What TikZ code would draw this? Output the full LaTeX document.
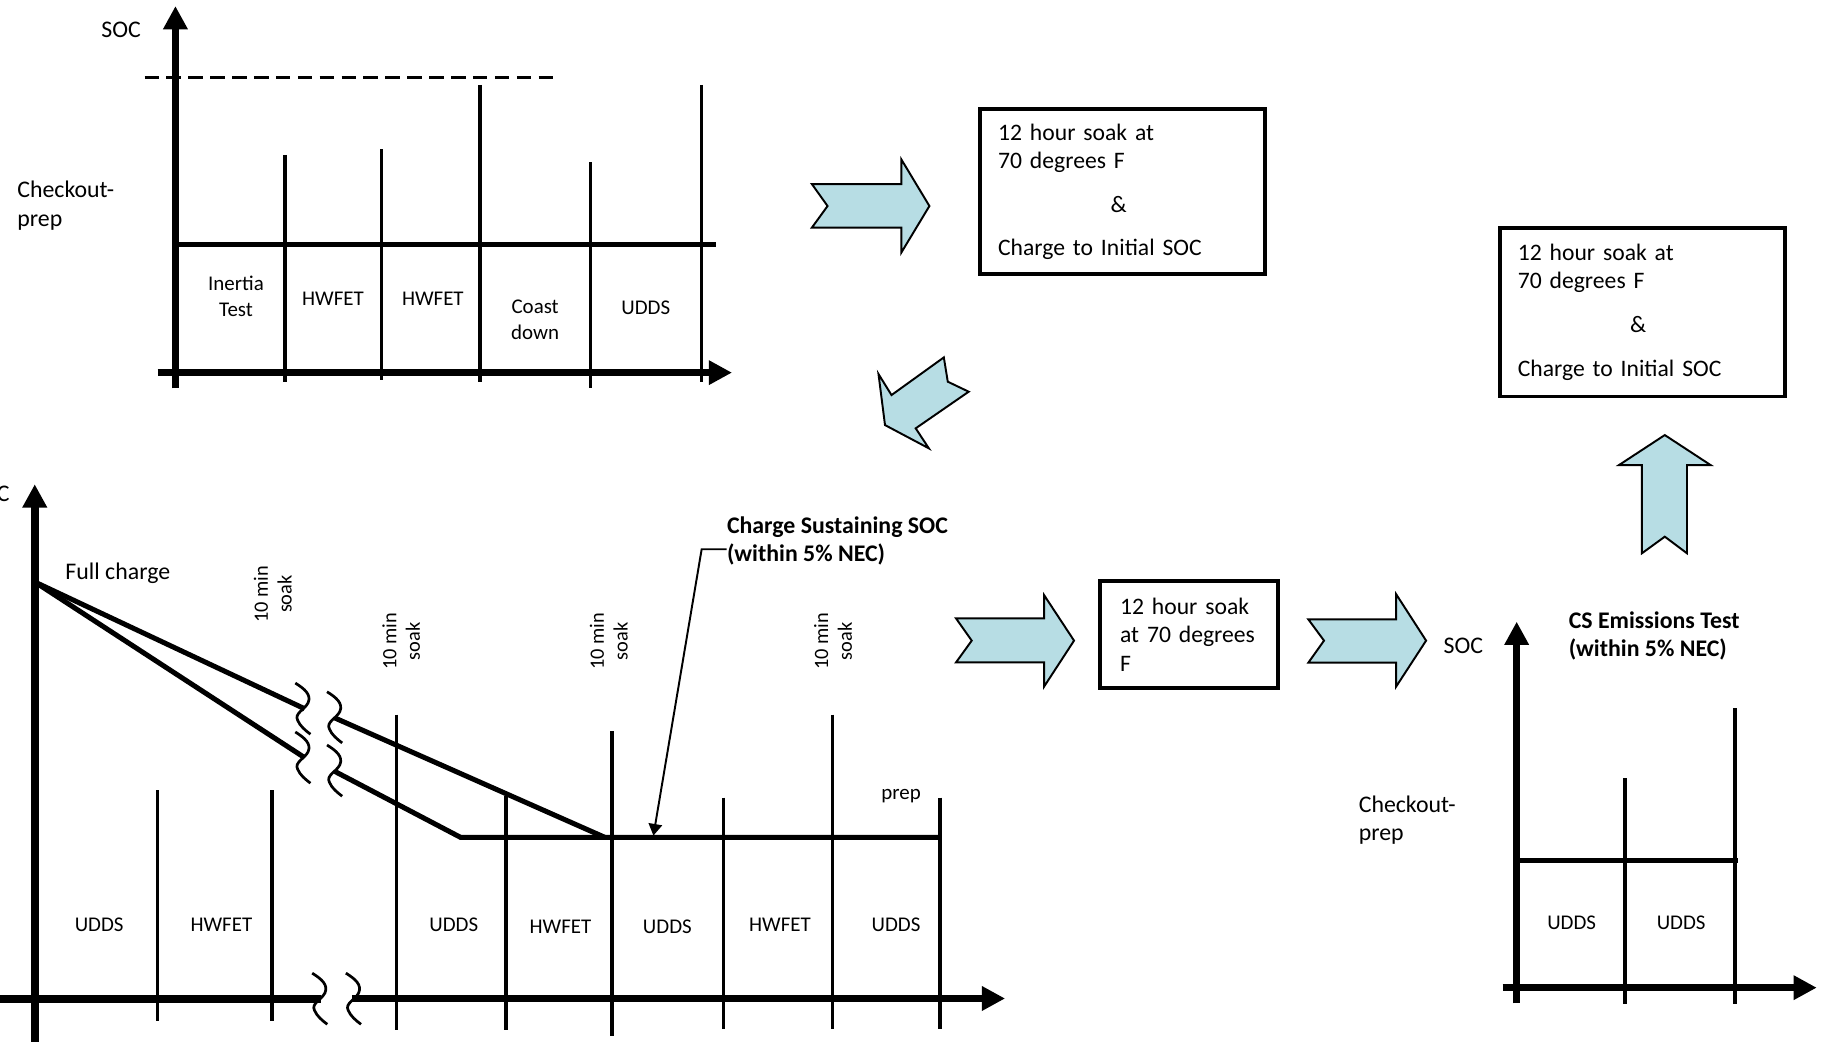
\documentclass[tikz,border=0pt]{standalone}
\usepackage{fontspec}
\setmainfont{Carlito}
\usetikzlibrary{arrows.meta}
\definecolor{arrowfill}{RGB}{183,221,228}

\begin{document}
\begin{tikzpicture}[x=0.6pt, y=-0.6pt,
    axis/.style={line width=3.9pt, -{Triangle[length=12pt,width=12pt]}},
    level/.style={line width=2.6pt},
    tick/.style={line width=1.7pt},
    squigline/.style={line width=1.4pt},
    blockarrow/.style={fill=arrowfill, draw=black, line width=1pt, line join=miter},
    soakbox/.style={draw, line width=2pt, align=left, inner ysep=0pt, font=\fontsize{12.2}{14.6}\selectfont},
    lbl/.style={inner sep=0pt, font=\fontsize{12.3}{14.6}\selectfont},
    lblbold/.style={inner sep=0pt, font=\fontsize{12.3}{14.6}\selectfont\bfseries},
    cell/.style={inner sep=0pt, align=center, font=\fontsize{10.8}{13.3}\selectfont},
    soaklbl/.style={inner sep=0pt, align=center, rotate=90, font=\fontsize{10.5}{12.2}\selectfont},
    squig/.pic={\draw[squigline] (0,0) .. controls (8,5) and (14,10) .. (11,17) .. controls (8,23) and (-1,26) .. (2,32) .. controls (4,37) and (9,41) .. (13,44);}]
    \useasboundingbox (0,0) rectangle (1568,896);

    % first test block
    \draw[line width=1.5pt, dash pattern=on 7.5pt off 3.8pt] (124.3,66.5) -- (481.6,66.5);
    \draw[tick] (245.2,133.3) -- (245.2,328.3);
    \draw[tick] (328.1,128.2) -- (328.1,326.9);
    \draw[tick] (412.8,73.1) -- (412.8,328.3);
    \draw[tick] (507.8,139.6) -- (507.8,334);
    \draw[tick] (603.3,73.1) -- (603.3,328.3);
    \draw[level] (150.9,210.7) -- (616.2,210.7);
    \draw[axis] (150.9,334) -- (150.9,5.2);
    \draw[axis] (135.5,320.5) -- (629.6,320.5);
    \node[lbl] (soctop) at (104.2,25.8) {SOC};
    \node[lbl, anchor=west, align=left] (checktop) at (14.6,176.8) {Checkout-\\prep};
    \node[cell] (inertia) at (203,254.9) {Inertia\\Test};
    \node[cell] (hwfeta) at (286.4,257.2) {HWFET};
    \node[cell] (hwfetb) at (372.3,257.2) {HWFET};
    \node[cell] (coast) at (460.3,274.9) {Coast\\down};
    \node[cell] (uddstop) at (555.4,264.3) {UDDS};

    % soak boxes and block arrows
    \node[soakbox, text width=128.4pt, inner xsep=9.3pt, minimum height=85.2pt] (soaka) at (965.5,165) {12 hour soak at\\70 degrees F\\[8pt]\hspace*{58pt}\&\\[8pt]Charge to Initial SOC};
    \node[soakbox, text width=128.4pt, inner xsep=9.3pt, minimum height=87pt] (soakb) at (1412.5,268.5) {12 hour soak at\\70 degrees F\\[8pt]\hspace*{58pt}\&\\[8pt]Charge to Initial SOC};
    \node[soakbox, text width=71.2pt, inner xsep=10.4pt, minimum height=55.5pt] (soakc) at (1022.75,545.75) {12 hour soak\\at 70 degrees\\F};
    \draw[blockarrow] (698.3,158.3) -- (775.2,158.3) -- (775.2,137) -- (799.4,177.2) -- (775.2,217.3) -- (775.2,195.8) -- (698.3,195.8) -- (711.8,177.2) -- cycle;
    \draw[blockarrow] (811.8,307.4) -- (766.8,339.8) -- (755.6,321.7) -- (761.2,365.6) -- (798.9,385.6) -- (787.6,368.4) -- (833.2,336.9) -- (815.2,328.3) -- cycle;
    \draw[blockarrow] (822.3,531.9) -- (898,531.9) -- (898,511.8) -- (923.8,551) -- (898,590.6) -- (898,569.7) -- (822.3,569.7) -- (835.8,551) -- cycle;
    \draw[blockarrow] (1125.3,532.7) -- (1200.8,532.7) -- (1200.8,511) -- (1226.6,551) -- (1200.8,590.6) -- (1200.8,570) -- (1125.3,570) -- (1138.8,551) -- cycle;
    \draw[blockarrow] (1412.2,475.9) -- (1412.2,400) -- (1392.5,400) -- (1431.9,374.2) -- (1471.3,400) -- (1451,400) -- (1451,475.9) -- (1431.9,461.6) -- cycle;

    % charge depleting block
    \draw[tick] (135.3,679.5) -- (135.3,878.5);
    \draw[tick] (233.9,679.5) -- (233.9,878.5);
    \draw[tick] (341,614.7) -- (341,885.5);
    \draw[tick] (435.2,685) -- (435.2,885.5);
    \draw[tick] (526.5,629) -- (526.5,891);
    \draw[tick] (622.2,686) -- (622.2,885);
    \draw[tick] (716.2,614.7) -- (716.2,885);
    \draw[tick] (808.5,686) -- (808.5,885);
    \draw[level, line join=round] (30,500.6) -- (262,609.6);
    \draw[level, line join=round] (30,500.6) -- (261,651);
    \draw[level] (288,617.5) -- (520.2,720.2);
    \draw[level] (288,663.5) -- (396.1,720.2) -- (808.5,720.2);
    \pic at (254,587.5) {squig};
    \pic at (254,629.6) {squig};
    \pic at (281.3,595) {squig};
    \pic at (281.3,640.8) {squig};
    \pic at (268.5,837) {squig};
    \pic at (297.5,837) {squig};
    \draw[axis] (29.9,900) -- (29.9,416.5);
    \draw[line width=3.9pt] (0,859.3) -- (276,859.3);
    \draw[axis] (303,858.8) -- (864.5,858.8);
    \node[lbl, anchor=east] (socbottom) at (8.5,424.5) {SOC};
    \node[lbl, anchor=west] (full) at (56,493.2) {Full charge};
    \node[soaklbl] (soaka) at (234.6,511) {10 min\\soak};
    \node[soaklbl] (soakb) at (345.1,551.5) {10 min\\soak};
    \node[soaklbl] (soakc) at (523.7,551.5) {10 min\\soak};
    \node[soaklbl] (soakd) at (716.5,551.5) {10 min\\soak};
    \node[cell] (uddsa) at (85.3,795.4) {UDDS};
    \node[cell] (hwfetc) at (190.4,795.4) {HWFET};
    \node[cell] (uddsb) at (390.3,795.4) {UDDS};
    \node[cell] (hwfetd) at (482.1,797) {HWFET};
    \node[cell] (uddsc) at (574,797) {UDDS};
    \node[cell] (hwfete) at (670.9,795.6) {HWFET};
    \node[cell] (uddsd) at (770.7,795.6) {UDDS};
    \node[cell] (prep) at (775,685) {prep};
    \node[lblbold, anchor=west, align=left] (cslabel) at (625,465.2) {Charge Sustaining SOC\\(within 5\% NEC)};
    \coordinate (csbend) at (603.5,472.4);
    \coordinate (cstarget) at (562,718.7);
    \draw[line width=1pt, -{Triangle[length=6pt,width=7pt]}] (cslabel.west |- csbend) -- (csbend) -- (cstarget);

    % emissions test block
    \draw[tick] (1397.7,669.5) -- (1397.7,863.9);
    \draw[tick] (1492.4,609.3) -- (1492.4,863.9);
    \draw[level] (1304.5,740.3) -- (1495.2,740.3);
    \draw[axis] (1304.5,863) -- (1304.5,534.7);
    \draw[axis] (1292.5,849.5) -- (1562.6,849.5);
    \node[lbl] (socright) at (1258.7,555.7) {SOC};
    \node[lbl, anchor=west, align=left] (checkright) at (1168.4,705.7) {Checkout-\\prep};
    \node[lblbold, anchor=west, align=left] (cstest) at (1349,546.9) {CS Emissions Test\\(within 5\% NEC)};
    \node[cell] (uddse) at (1351.8,793.6) {UDDS};
    \node[cell] (uddsf) at (1446,794) {UDDS};
\end{tikzpicture}
\end{document}
